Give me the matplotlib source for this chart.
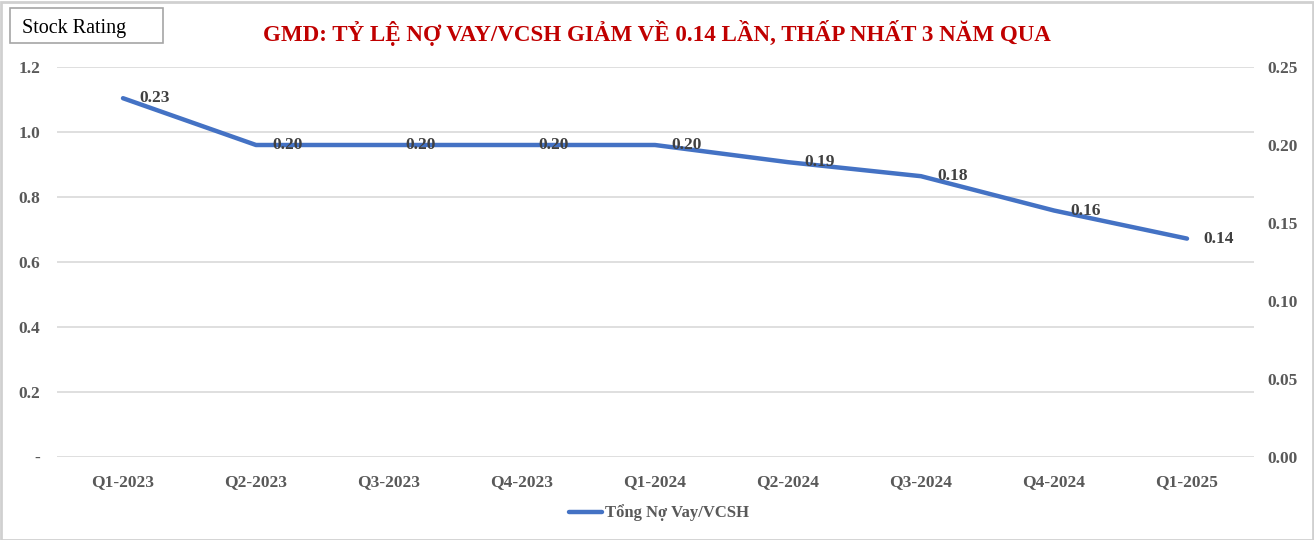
import matplotlib
matplotlib.use("Agg")
import matplotlib.pyplot as plt
from matplotlib.patches import Rectangle
from matplotlib.ticker import FixedLocator, FixedFormatter

categories = ["Q1-2023", "Q2-2023", "Q3-2023", "Q4-2023", "Q1-2024",
              "Q2-2024", "Q3-2024", "Q4-2024", "Q1-2025"]
ratio = [0.230, 0.200, 0.200, 0.200, 0.200, 0.189, 0.180, 0.158, 0.140]
ratio_labels = ["0.23", "0.20", "0.20", "0.20", "0.20", "0.19", "0.18", "0.16", "0.14"]
left_ticks = [0, 0.2, 0.4, 0.6, 0.8, 1.0, 1.2]
left_tick_labels = ["-", "0.2", "0.4", "0.6", "0.8", "1.0", "1.2"]
right_ticks = [0.0, 0.05, 0.10, 0.15, 0.20, 0.25]
right_tick_labels = ["0.00", "0.05", "0.10", "0.15", "0.20", "0.25"]
title = "GMD: TỶ LỆ NỢ VAY/VCSH GIẢM VỀ 0.14 LẦN, THẤP NHẤT 3 NĂM QUA"
series_name = "Tổng Nợ Vay/VCSH"

FONT = ["Liberation Serif", "DejaVu Serif"]
plt.rcParams["font.family"] = FONT

W, H = 1314, 540
fig = plt.figure(figsize=(W / 100, H / 100), dpi=100)
fig.patch.set_facecolor("white")

ax = fig.add_axes([56.5 / W, 1 - 457 / H, 1197 / W, 390 / H])
ax2 = ax.twinx()

x = list(range(len(categories)))
ax.set_xlim(-0.5, len(categories) - 0.5)
ax.set_ylim(0, 1.2)
ax2.set_ylim(0, 0.25)

grid_c = "#D9D9D9"
for v in left_ticks:
    ax.axhline(v, color=grid_c, lw=1.2, zorder=0)

for a in (ax, ax2):
    for s in a.spines.values():
        s.set_visible(False)

tick_c = "#595959"
ax.yaxis.set_major_locator(FixedLocator(left_ticks))
ax.yaxis.set_major_formatter(FixedFormatter(left_tick_labels))
ax2.yaxis.set_major_locator(FixedLocator(right_ticks))
ax2.yaxis.set_major_formatter(FixedFormatter(right_tick_labels))
ax.set_xticks(x)
ax.set_xticklabels(categories)
ax.tick_params(axis="y", length=0, pad=11.5, labelsize=12.5, labelcolor=tick_c)
ax2.tick_params(axis="y", length=0, pad=10, labelsize=12.5, labelcolor=tick_c)
ax.tick_params(axis="x", length=0, pad=12, labelsize=12.5, labelcolor=tick_c)
for lbl in ax.get_xticklabels() + ax.get_yticklabels() + ax2.get_yticklabels():
    lbl.set_fontweight("bold")

line, = ax2.plot(x, ratio, color="#4472C4", lw=3.2, solid_capstyle="round",
                 zorder=3, label=series_name)
for xi, yi, t in zip(x, ratio, ratio_labels):
    ax2.annotate(t, (xi, yi), xytext=(12, 0), textcoords="offset points",
                 ha="left", va="center", fontsize=12.5, fontweight="bold",
                 color="#404040", zorder=4)

fig.legend(handles=[line], labels=[series_name], loc="center",
           bbox_to_anchor=(659 / W, 1 - 513 / H), frameon=False,
           prop={"family": FONT, "size": 12, "weight": "bold"},
           labelcolor=tick_c, handlelength=2.0, handletextpad=0.2)

fig.text(657 / W, 1 - 33 / H, title, ha="center", va="center",
         fontsize=16.6, fontweight="bold", color="#C00000")

# Stock Rating box
fig.patches.append(Rectangle((10 / W, 1 - 43 / H), 153 / W, 35 / H,
                             transform=fig.transFigure, fill=False,
                             edgecolor="#A6A6A6", lw=1.2))
fig.text(22 / W, 1 - 29 / H, "Stock Rating", ha="left", va="center",
         fontsize=14.5, color="black")

# outer frame
fig.patches.append(Rectangle((0.5 / W, 0.5 / H), (W - 2) / W, (H - 2) / H,
                             transform=fig.transFigure, fill=False,
                             edgecolor="#D0D0D0", lw=2))

fig.savefig("out.png", dpi=100)
